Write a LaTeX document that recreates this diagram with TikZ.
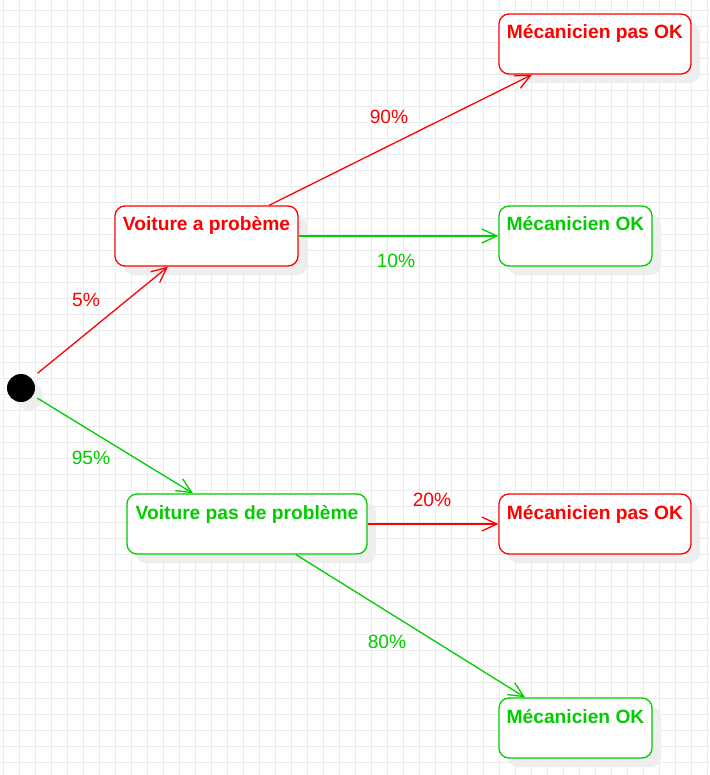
\documentclass[tikz,border=0pt]{standalone}
\usepackage{fontspec}
\setmainfont{Liberation Sans}
\usetikzlibrary{arrows.meta,calc,shadows}
\definecolor{dred}{HTML}{FF0000}
\definecolor{dgreen}{HTML}{00CC00}
\definecolor{gridc}{HTML}{EBEBEB}
\definecolor{shadowc}{HTML}{EEEEEE}
\begin{document}
\begin{tikzpicture}[x=1pt,y=-1pt,
  gridline/.style={draw=gridc,line width=0.9pt},
  statebox/.style={draw,fill=white,rounded corners=10pt,line width=1.3pt,inner sep=0pt,
     minimum height=60pt,text height=25pt,text depth=35pt,
     font=\fontsize{19.2}{22}\selectfont\bfseries,
     drop shadow={shadow xshift=9pt,shadow yshift=-9pt,fill=shadowc,opacity=1}},
  redbox/.style={statebox,draw=dred,text=dred},
  greenbox/.style={statebox,draw=dgreen,text=dgreen},
  conn/.style={line width=1.3pt,-{Straight Barb[length=15pt,width=14pt,line width=1.3pt]}},
  pct/.style={font=\fontsize{19.2}{22}\selectfont,inner sep=0pt},
]
\useasboundingbox (0,0) rectangle (709,775);
\fill[white] (0,0) rectangle (709,775);
\foreach \i in {0,...,44} {\draw[gridline] ({3+16*\i},0) -- ({3+16*\i},775);}
\foreach \j in {0,...,48} {\draw[gridline] (0,{10+16*\j}) -- (709,{10+16*\j});}

\node[circle,fill=black,inner sep=0pt,minimum size=28pt,
  drop shadow={shadow xshift=8pt,shadow yshift=-8pt,fill=shadowc,opacity=1}] (start) at (21,388) {};

\node[redbox,minimum width=183pt] (vp) at (206.5,236) {Voiture a probème};
\node[greenbox,minimum width=240pt] (vn) at (247,524) {Voiture pas de problème};
\node[redbox,minimum width=192pt] (m1) at (595,44) {Mécanicien pas OK};
\node[greenbox,minimum width=153pt] (m2) at (575.5,236) {Mécanicien OK};
\node[redbox,minimum width=192pt] (m3) at (595,524) {Mécanicien pas OK};
\node[greenbox,minimum width=153pt] (m4) at (575.5,728) {Mécanicien OK};

\draw[conn,dred,shorten <=8pt] (start.43) -- ([xshift=-38.5pt]vp.south);
\draw[conn,dgreen,shorten <=5pt] (start.-32) -- ([xshift=-54pt]vn.north);
\draw[conn,dred] ([xshift=62.5pt]vp.north) -- ([xshift=-63pt]m1.south);
\draw[conn,dgreen] (vp.east) -- (m2.west);
\draw[conn,dred] (vn.east) -- (m3.west);
\draw[conn,dgreen] ([xshift=49pt]vn.south) -- ([xshift=-50.5pt]m4.north);

\node[pct,text=dred] (l5) at (86,300) {5\%};
\node[pct,text=dgreen] (l95) at (91,458) {95\%};
\node[pct,text=dred] (l90) at (389,117) {90\%};
\node[pct,text=dgreen] (l10) at (396,261) {10\%};
\node[pct,text=dred] (l20) at (432,500) {20\%};
\node[pct,text=dgreen] (l80) at (387,642) {80\%};
\end{tikzpicture}
\end{document}
